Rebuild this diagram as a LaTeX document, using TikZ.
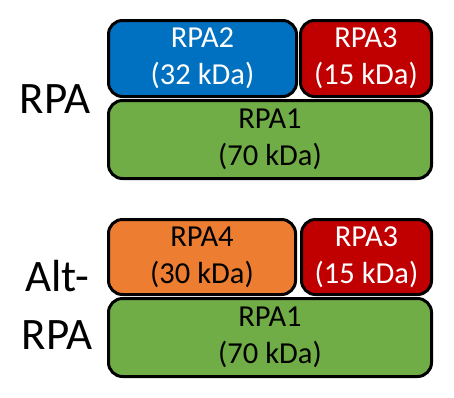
\documentclass[tikz,border=0pt]{standalone}
\usepackage{fontspec}
\setmainfont{Carlito}
\definecolor{rblue}{HTML}{0070C0}
\definecolor{rred}{HTML}{C00000}
\definecolor{rgreen}{HTML}{70AD47}
\definecolor{rorange}{HTML}{ED7D31}
\begin{document}
\begin{tikzpicture}[x=1pt,y=-1pt,
  sub/.style={draw=black,line width=3pt,rounded corners=14pt,align=center,
    font=\fontsize{30.5}{37}\selectfont,inner sep=0pt},
  lbl/.style={align=center,font=\fontsize{45}{58}\selectfont,inner sep=0pt}]
\useasboundingbox[fill=white] (0,0) rectangle (454,397);
% RPA
\node[sub,fill=rblue,text=white,minimum width=188pt,minimum height=76pt] (rpa2) at (202.5,58.5) {RPA2\\(32 kDa)};
\node[sub,fill=rred,text=white,minimum width=131pt,minimum height=76pt] (rpa3a) at (366,58.5) {RPA3\\(15 kDa)};
\node[sub,fill=rgreen,text=black,minimum width=323pt,minimum height=78pt] (rpa1a) at (270,139.5) {RPA1\\(70 kDa)};
\node[lbl] (lrpa) at (55,99) {RPA};
% Alt-RPA
\node[sub,fill=rorange,text=black,minimum width=187pt,minimum height=75pt] (rpa4) at (202,257) {RPA4\\(30 kDa)};
\node[sub,fill=rred,text=white,minimum width=130pt,minimum height=75pt] (rpa3b) at (366.5,257) {RPA3\\(15 kDa)};
\node[sub,fill=rgreen,text=black,minimum width=323pt,minimum height=78pt] (rpa1b) at (270,337.5) {RPA1\\(70 kDa)};
\node[lbl] (lalt) at (57,305) {Alt-\\RPA};
\end{tikzpicture}
\end{document}
